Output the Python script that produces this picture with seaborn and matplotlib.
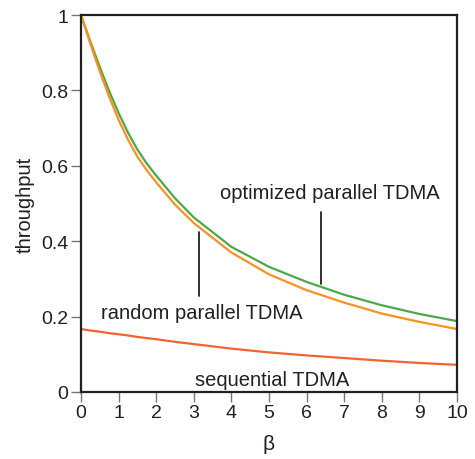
import numpy as np
import pandas as pd
import matplotlib
matplotlib.use("Agg")
import matplotlib.pyplot as plt
import seaborn as sns

beta = [0, 0.25, 0.5, 0.75, 1, 1.25, 1.5, 1.75, 2, 2.5, 3, 4, 5, 6, 7, 8, 9, 10]
optimized = [1.0, 0.929, 0.862, 0.798, 0.740, 0.688, 0.643, 0.606, 0.574, 0.514,
             0.463, 0.385, 0.332, 0.292, 0.258, 0.230, 0.207, 0.188]
random_par = [1.0, 0.923, 0.850, 0.783, 0.722, 0.669, 0.624, 0.588, 0.556, 0.497,
              0.448, 0.370, 0.312, 0.270, 0.237, 0.208, 0.186, 0.167]
sequential = [0.167, 0.163, 0.160, 0.156, 0.153, 0.150, 0.146, 0.143, 0.140, 0.133,
              0.127, 0.115, 0.105, 0.097, 0.090, 0.083, 0.077, 0.072]

series_names = ["optimized parallel TDMA", "random parallel TDMA", "sequential TDMA"]
colors = ["#4fa64b", "#f7931e", "#f0652f"]
xticks = [0, 1, 2, 3, 4, 5, 6, 7, 8, 9, 10]
yticks = [0, 0.2, 0.4, 0.6, 0.8, 1]
ytick_labels = ["0", "0.2", "0.4", "0.6", "0.8", "1"]

n = len(beta)
df = pd.DataFrame({
    "beta": beta * 3,
    "throughput": optimized + random_par + sequential,
    "series": [series_names[0]] * n + [series_names[1]] * n + [series_names[2]] * n,
})

sns.set_theme(style="white")
plt.rcParams["font.family"] = ["Liberation Sans", "DejaVu Sans"]

fig = plt.figure(figsize=(4.75, 4.6), dpi=100)
ax = fig.add_axes([0.1705, 0.1457, 0.7915, 0.8195])

sns.lineplot(data=df, x="beta", y="throughput", hue="series",
             palette=dict(zip(series_names, colors)), linewidth=1.6,
             legend=False, ax=ax)

txt = "#231f20"
ax.set_xlim(0, 10)
ax.set_ylim(0, 1)
ax.set_xticks(xticks)
ax.set_xticklabels([str(t) for t in xticks])
ax.set_yticks(yticks)
ax.set_yticklabels(ytick_labels)
ax.tick_params(axis="both", direction="out", length=7, width=1, color="#777777",
               labelsize=14, labelcolor=txt, pad=2,
               bottom=True, left=True)
for s in ax.spines.values():
    s.set_color(txt)
    s.set_linewidth(1.6)

ax.set_xlabel("β", fontsize=15, color=txt, labelpad=9)
ax.set_ylabel("throughput", fontsize=14.5, color=txt, labelpad=5)

# annotations
ax.text(6.63, 0.530, "optimized parallel TDMA", ha="center", va="center",
        fontsize=14.5, color=txt)
ax.plot([6.38, 6.38], [0.286, 0.478], color=txt, linewidth=1.3)
ax.text(3.2, 0.212, "random parallel TDMA", ha="center", va="center",
        fontsize=14.5, color=txt)
ax.plot([3.15, 3.15], [0.255, 0.424], color=txt, linewidth=1.3)
ax.text(5.08, 0.032, "sequential TDMA", ha="center", va="center",
        fontsize=14.5, color=txt)

fig.savefig("out.png", dpi=100)
